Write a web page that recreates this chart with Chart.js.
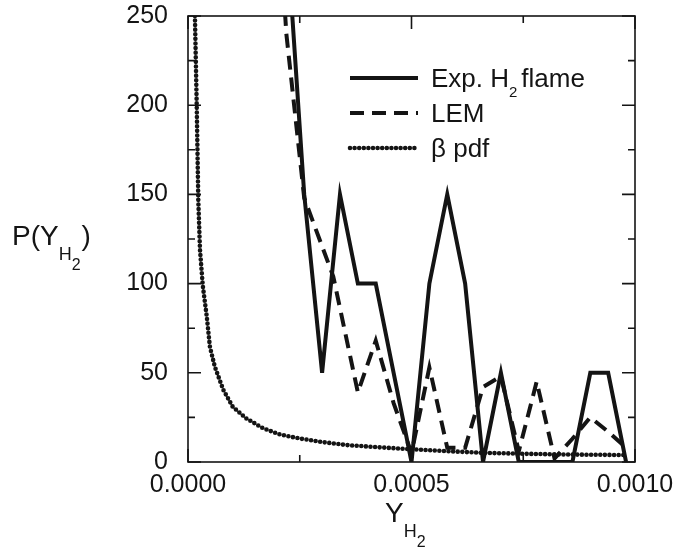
<!DOCTYPE html>
<html lang="en">
<head>
  <meta charset="UTF-8">
  <title>PDF of H2 mass fraction</title>
  <script src="https://cdn.jsdelivr.net/npm/chart.js"></script>
  <style>
    html, body { margin: 0; padding: 0; background: #fff; }
    #wrap { position: relative; width: 680px; height: 551px; }
  </style>
</head>
<body>
  <div id="wrap"><canvas id="pdfChart"></canvas></div>

  <script>
    // Exp. H2 flame (solid)
    const expX = [0.00018, 0.00022, 0.00026, 0.00030, 0.00034, 0.00038, 0.00042, 0.00046, 0.00050, 0.00054,
                  0.00058, 0.00062, 0.00066, 0.00070, 0.00074, 0.00078, 0.00082, 0.00086, 0.00090, 0.00094, 0.00098];
    const expY = [450, 300, 150, 50, 150, 100, 100, 50, 0, 100,
                  150, 100, 0, 50, 0, 0, 0, 0, 50, 50, 0];

    // LEM (dashed)
    const lemX = [0.00018, 0.00022, 0.00026, 0.000325, 0.00038, 0.00042, 0.00046, 0.00050, 0.00054, 0.00058,
                  0.00062, 0.00066, 0.00070, 0.00074, 0.00078, 0.00082, 0.00086, 0.00090, 0.00094, 0.00098];
    const lemY = [400, 240, 148, 104, 39, 68, 33, 5, 53, 8,
                  8, 42, 48, 6, 45, 2, 13, 25, 17, 8];

    // beta pdf (dotted)
    const betaX = [0.000012, 0.0000155, 0.0000195, 0.000023, 0.0000268, 0.000033, 0.000042, 0.000049,
                   0.00006, 0.000079, 0.0001, 0.00013, 0.000168, 0.000206, 0.000247, 0.0003,
                   0.000355, 0.00043, 0.000504, 0.00058, 0.000653, 0.00075, 0.00085, 0.00098];
    const betaY = [330, 250, 200, 147, 119, 99, 81.5, 64.6,
                   53.4, 40.4, 31, 24.5, 18.9, 15.4, 13.3, 11.2,
                   9.5, 8.2, 7.1, 6.1, 5.2, 4.6, 4.2, 3.9];

    const xTicks = [0, 0.0005, 0.001];
    const xMinor = [0.00025, 0.00075];
    const yTicks = [0, 50, 100, 150, 200, 250];
    const yMinor = [25, 75, 125, 175, 225];

    const FONT = '"Liberation Sans", Arial, Helvetica, sans-serif';
    const INK = '#141414';

    const toPoints = (xs, ys) => xs.map((x, i) => ({ x: x, y: ys[i] }));

    // draws a run of text pieces (used for subscripts)
    function drawParts(ctx, x, y, parts) {
      parts.forEach(p => {
        ctx.font = p.size + 'px ' + FONT;
        ctx.fillText(p.t, x, y + (p.dy || 0));
        x += ctx.measureText(p.t).width + (p.gap || 0);
      });
    }

    // box round the plot with inward ticks on all four sides
    const framePlugin = {
      id: 'frame',
      afterDatasetsDraw(chart) {
        const { ctx, chartArea: a, scales: { x, y } } = chart;
        ctx.save();
        ctx.strokeStyle = INK;
        ctx.lineWidth = 1.6;
        ctx.strokeRect(a.left, a.top, a.right - a.left, a.bottom - a.top);
        ctx.beginPath();
        const yTick = (v, len) => {
          const py = y.getPixelForValue(v);
          ctx.moveTo(a.left, py); ctx.lineTo(a.left + len, py);
          ctx.moveTo(a.right, py); ctx.lineTo(a.right - len, py);
        };
        const xTick = (v, len) => {
          const px = x.getPixelForValue(v);
          ctx.moveTo(px, a.bottom); ctx.lineTo(px, a.bottom - len);
          ctx.moveTo(px, a.top); ctx.lineTo(px, a.top + len);
        };
        yTicks.forEach(v => yTick(v, 13));
        yMinor.forEach(v => yTick(v, 7));
        xTicks.forEach(v => xTick(v, 13));
        xMinor.forEach(v => xTick(v, 7));
        ctx.stroke();
        ctx.restore();
      }
    };

    // legend and axis titles
    const textPlugin = {
      id: 'texts',
      afterDraw(chart) {
        const ctx = chart.ctx;
        ctx.save();
        ctx.fillStyle = INK;
        ctx.textBaseline = 'alphabetic';
        ctx.textAlign = 'left';

        const legend = [
          { ds: 0, y: 78, parts: [{ t: 'Exp. H', size: 26 }, { t: '2', size: 15, dy: 10, gap: 4 }, { t: 'flame', size: 26 }] },
          { ds: 1, y: 113, parts: [{ t: 'LEM', size: 26 }] },
          { ds: 2, y: 148, parts: [{ t: '\u03b2 pdf', size: 26 }] }
        ];
        legend.forEach(item => {
          const d = chart.data.datasets[item.ds];
          ctx.save();
          ctx.strokeStyle = d.borderColor;
          ctx.lineWidth = d.borderWidth;
          ctx.lineCap = d.borderCapStyle || 'butt';
          ctx.setLineDash(d.borderDash || []);
          ctx.beginPath();
          ctx.moveTo(350, item.y);
          ctx.lineTo(418, item.y);
          ctx.stroke();
          ctx.restore();
          drawParts(ctx, 431, item.y + 9, item.parts);
        });

        // x title  Y_{H_2}
        drawParts(ctx, 385, 522, [
          { t: 'Y', size: 28 },
          { t: 'H', size: 18, dy: 15 },
          { t: '2', size: 16, dy: 25 }
        ]);
        // y title  P(Y_{H_2})
        drawParts(ctx, 12, 245, [
          { t: 'P(Y', size: 28 },
          { t: 'H', size: 18, dy: 15 },
          { t: '2', size: 16, dy: 25, gap: 1 },
          { t: ')', size: 28 }
        ]);
        ctx.restore();
      }
    };

    const ctx = document.getElementById('pdfChart').getContext('2d');
    new Chart(ctx, {
      type: 'line',
      data: {
        datasets: [
          {
            label: 'Exp. H2 flame',
            data: toPoints(expX, expY),
            borderColor: INK,
            borderWidth: 4,
            borderJoinStyle: 'miter',
            pointRadius: 0,
            tension: 0,
            clip: 0
          },
          {
            label: 'LEM',
            data: toPoints(lemX, lemY),
            borderColor: INK,
            borderWidth: 4,
            borderDash: [14, 8],
            pointRadius: 0,
            tension: 0,
            clip: 0
          },
          {
            label: '\u03b2 pdf',
            data: toPoints(betaX, betaY),
            borderColor: INK,
            borderWidth: 4.6,
            borderDash: [0, 4.6],
            borderCapStyle: 'round',
            pointRadius: 0,
            tension: 0,
            clip: 0
          }
        ]
      },
      options: {
        responsive: true,
        maintainAspectRatio: false,
        animation: false,
        devicePixelRatio: 1,
        layout: { padding: { left: 0, right: 45, top: 16, bottom: 0 } },
        plugins: {
          legend: { display: false },
          tooltip: { enabled: false }
        },
        scales: {
          x: {
            type: 'linear',
            min: 0,
            max: 0.001,
            afterBuildTicks: s => { s.ticks = xTicks.map(v => ({ value: v })); },
            afterFit: s => { s.height = 89; s.paddingLeft = 0; s.paddingRight = 0; },
            grid: { display: false, drawTicks: false },
            border: { display: false },
            ticks: {
              padding: 8,
              color: INK,
              maxRotation: 0,
              font: { family: FONT, size: 25 },
              callback: v => v.toFixed(4)
            }
          },
          y: {
            min: 0,
            max: 250,
            afterBuildTicks: s => { s.ticks = yTicks.map(v => ({ value: v })); },
            afterFit: s => { s.width = 188; s.paddingTop = 0; s.paddingBottom = 0; },
            grid: { display: false, drawTicks: false },
            border: { display: false },
            ticks: {
              padding: 20,
              color: INK,
              font: { family: FONT, size: 25 }
            }
          }
        }
      },
      plugins: [framePlugin, textPlugin]
    });
  </script>
</body>
</html>
